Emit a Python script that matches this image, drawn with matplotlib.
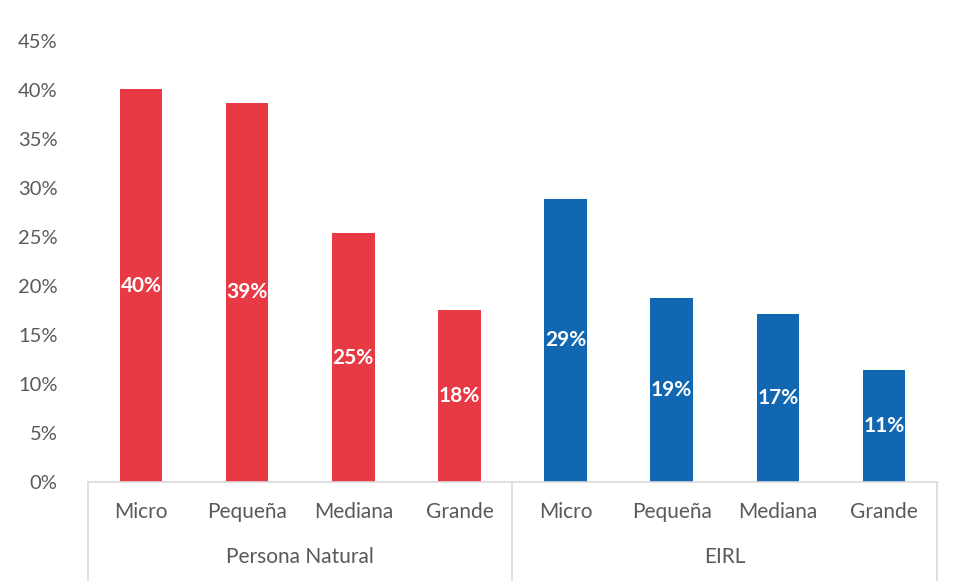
import matplotlib
matplotlib.use("Agg")
import matplotlib.pyplot as plt
from matplotlib.lines import Line2D

plt.rcParams['font.family'] = ['Lato', 'DejaVu Sans']

groups = ["Persona Natural", "EIRL"]
categories = ["Micro", "Pequeña", "Mediana", "Grande"]
persona_natural = [40.1, 38.7, 25.4, 17.6]
eirl = [28.9, 18.8, 17.1, 11.4]
labels_pn = ["40%", "39%", "25%", "18%"]
labels_eirl = ["29%", "19%", "17%", "11%"]
yticks = [0, 5, 10, 15, 20, 25, 30, 35, 40, 45]

red = "#E83A45"
blue = "#1167B1"
gray_text = "#595959"
line_col = "#D9D9D9"

fig = plt.figure(figsize=(9.54, 5.81), dpi=100)
ax = fig.add_axes([0.0922, 0.1704, 0.8900, 0.7590])

n = len(categories)
x_pn = list(range(n))
x_e = list(range(n, 2 * n))
bw = 0.4
b1 = ax.bar(x_pn, persona_natural, width=bw, color=red)
b2 = ax.bar(x_e, eirl, width=bw, color=blue)

for bars, labs in ((b1, labels_pn), (b2, labels_eirl)):
    for b, lab in zip(bars, labs):
        ax.text(b.get_x() + b.get_width() / 2, b.get_height() / 2, lab,
                ha="center", va="center", color="white", fontsize=15,
                fontweight="bold")

ax.set_xlim(-0.5, 2 * n - 0.5)
ax.set_ylim(0, 45)
ax.set_yticks(yticks)
ax.set_yticklabels([f"{v}%" for v in yticks], fontsize=14.5, color=gray_text)
ax.tick_params(axis="y", length=0, pad=22)
ax.set_xticks([])
for s in ["top", "right", "left"]:
    ax.spines[s].set_visible(False)
ax.spines["bottom"].set_color(line_col)
ax.spines["bottom"].set_linewidth(1.2)

trans = ax.get_xaxis_transform()
for i, c in enumerate(categories * 2):
    ax.text(i, -0.068, c, transform=trans, ha="center", va="center",
            fontsize=15, color=gray_text)
for g, name in enumerate(groups):
    ax.text(g * n + (n - 1) / 2, -0.17, name, transform=trans, ha="center",
            va="center", fontsize=15, color=gray_text)
for xs in (-0.5, n - 0.5, 2 * n - 0.5):
    ax.add_line(Line2D([xs, xs], [0, -0.23], transform=trans, color=line_col,
                       linewidth=1.2, clip_on=False))

fig.savefig("out.png", dpi=100)
